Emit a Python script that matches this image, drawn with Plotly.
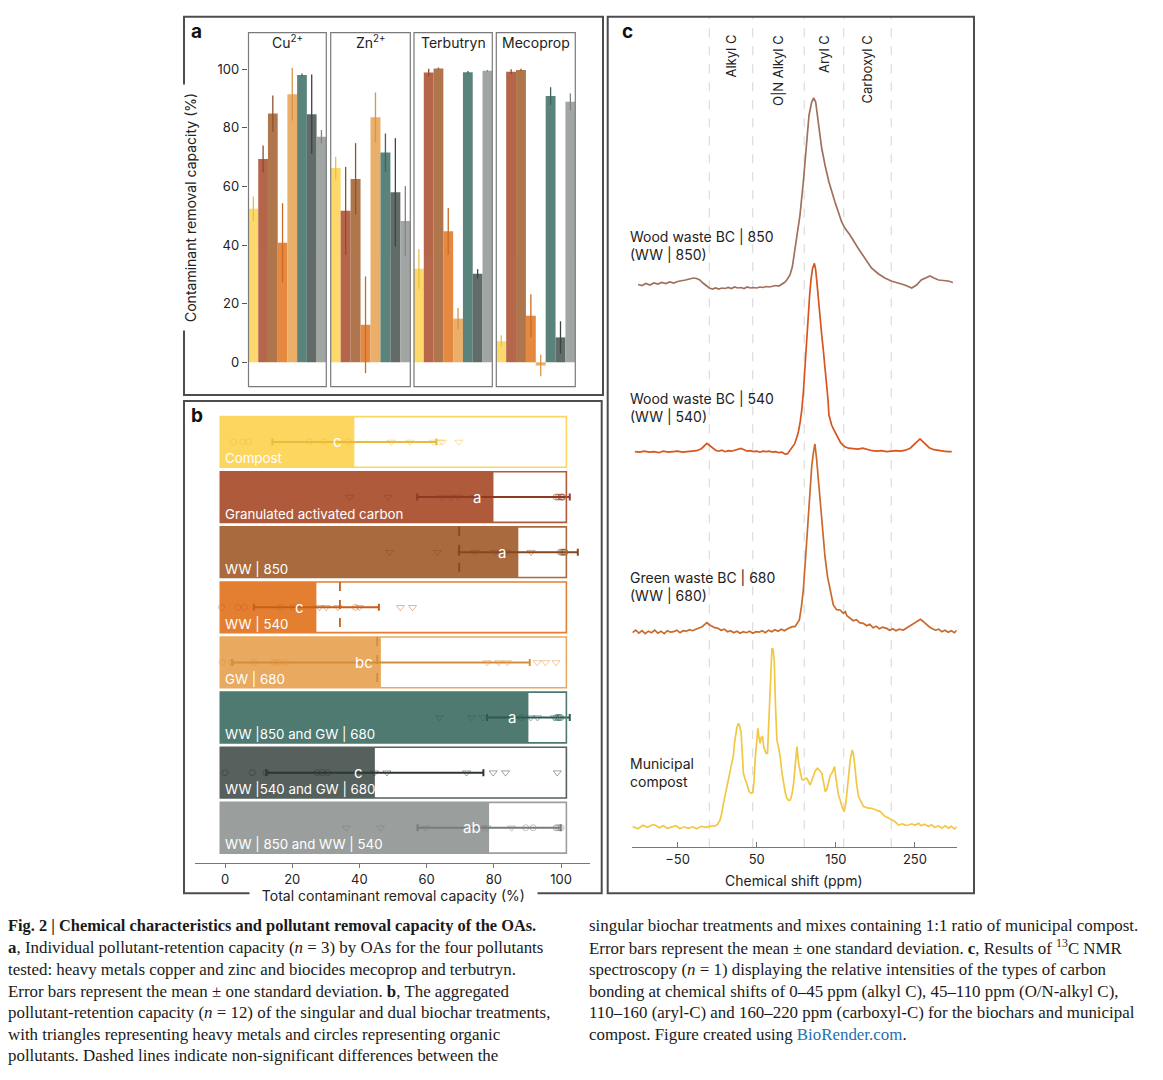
import plotly.graph_objects as go

# ── Page geometry (pixels of the 1163 x 1080 page; the html body adds an 8 px margin)
PAGE_W, PAGE_H = 1163, 1080
OFF = 8
W, H = PAGE_W - OFF, PAGE_H - OFF
FONT = 'Inter, Roboto, sans-serif'
SERIF = 'Liberation Serif, DejaVu Serif, serif'
INK = '#222222'
FRAME = '#4d4d4d'
NBSP = '\u00a0'


def fx(x):
    return (x - OFF) / W


def fy(y):
    return 1 - (y - OFF) / H


# ── Treatments (shared by panels a and b)
TREATMENTS = ['Compost', 'Granulated activated carbon', 'WW | 850', 'WW | 540', 'GW | 680',
              'WW |850 and GW | 680', 'WW |540 and GW | 680', 'WW | 850 and WW | 540']
SHORT = ['Compost', 'GAC', 'WW850', 'WW540', 'GW680', 'WW850+GW680', 'WW540+GW680', 'WW850+WW540']
FILL = ['#FDD660', '#B05A3C', '#A96B3E', '#E47F32', '#E9A95E', '#4E7A72', '#56605D', '#9A9F9D']
DARK = ['#E8BC3A', '#8E3A22', '#86481F', '#C85F18', '#D68D3A', '#2F5A53', '#2E3634', '#787D7B']

# ── Panel a: individual pollutant removal (%), mean and SD
POLLUTANTS = ['Cu<sup>2+</sup>', 'Zn<sup>2+</sup>', 'Terbutryn', 'Mecoprop']
CU_MEAN = [52.4, 69.4, 84.9, 40.8, 91.5, 98.1, 84.7, 77.0]
CU_SD = [4.2, 4.6, 6.2, 13.5, 9.0, 0.5, 13.5, 2.3]
ZN_MEAN = [66.3, 51.7, 62.6, 12.8, 83.6, 71.6, 58.0, 48.2]
ZN_SD = [3.9, 15.0, 12.2, 16.5, 8.5, 6.5, 18.5, 12.0]
TERB_MEAN = [31.9, 98.9, 100.3, 44.7, 14.9, 99.0, 30.2, 99.5]
TERB_SD = [6.8, 1.3, 0.3, 8.0, 3.6, 0.4, 1.6, 0.3]
MECO_MEAN = [7.2, 99.2, 99.8, 15.9, -1.1, 90.9, 8.5, 88.9]
MECO_SD = [2.0, 0.8, 0.4, 7.3, 3.7, 3.0, 5.5, 2.9]

# ── Panel b: total removal (%), mean, SD, letters, replicate points
TOTAL_MEAN = [38.5, 79.9, 87.3, 27.2, 46.4, 90.3, 44.6, 78.6]
TOTAL_SD = [24.4, 22.7, 17.7, 18.6, 44.3, 12.3, 32.3, 21.3]
LETTERS = ['c', 'a', 'a', 'c', 'bc', 'a', 'c', 'ab']
METALS = [
    [49.5, 55.0, 62.0, 63.9, 64.7, 69.6],
    [37.1, 48.6, 64.4, 67.2, 69.4, 74.0],
    [49.0, 63.2, 74.4, 80.3, 83.8, 91.1],
    [28.1, 30.1, 33.6, 40.0, 52.2, 55.8],
    [78.0, 81.5, 84.0, 92.9, 95.4, 98.5],
    [63.8, 73.4, 76.8, 91.0, 93.0, 98.0],
    [44.5, 48.2, 71.9, 79.8, 83.5, 98.9],
    [36.1, 46.3, 59.7, 76.8, 78.0, 85.3],
]
ORGANICS = [
    [2.5, 5.3, 7.0, 25.1, 29.6, 36.8],
    [98.5, 99.0, 99.5, 100.0, 100.3, 100.5],
    [99.8, 100.2, 100.5, 100.8, 101.0, 101.2],
    [-1.0, 3.8, 5.8, 16.5, 20.2, 38.8],
    [-0.9, 2.0, 8.7, 14.5, 15.9, 18.0],
    [88.1, 98.5, 99.0, 99.3, 99.6, 100.0],
    [0.0, 8.1, 12.2, 27.4, 28.9, 30.6],
    [89.5, 91.7, 98.5, 99.0, 99.5, 100.0],
]
NS_ROW = [2, 3, 4]
NS_VALUE = [69.7, 34.2, 45.3]

# ── Panel c: 13C NMR spectra (ppm, relative intensity)
REGION_EDGES = [-10, 45, 110, 160, 220]
REGION_NAMES = ['Alkyl C', 'O|N Alkyl C', 'Aryl C', 'Carboxyl C']

WW850_PPM = [-100, -95, -90, -85, -80, -75, -70, -65, -60, -55, -50, -45, -40, -35, -30, -26, -22, -18,
             -14, -10, -6, -2, 2, 6, 10, 14, 18, 22, 26, 30, 34, 38, 42, 46, 50, 54, 58, 62, 66, 70,
             74, 78, 82, 85, 88, 92, 95, 98.4, 101.5, 104.7, 108.9, 112.3, 116.1, 119.5, 122, 124.5,
             126.6, 132.1, 136.3, 141.3, 148.9, 157.4, 161.6, 167.9, 178, 186, 195, 204, 212, 220,
             229, 237, 246, 252, 258, 263, 269, 274, 280, 286, 292, 298]
WW850_INT = [0.5, -0.5, 1.5, 0, 2, 1, 2.5, 1.5, 3, 2, 3.5, 4, 5, 6, 7, 6.5, 5, 2,
             -1, -3, -4, -3, -4, -3, -3.5, -2.5, -3.5, -2, -3, -2.5, -3.5, -2, -3, -2.5, -3, -2,
             -2.5, -1.5, -2, -1.5, -0.5, -1, 1, 2.5, 5, 10, 18, 36.7, 52, 70, 103, 137, 170, 183,
             187, 183, 170, 137, 120, 103, 83, 63, 56.7, 50, 37, 27, 17, 11, 7, 4, 2, 0, -3, 0, 5,
             7, 9, 7, 5, 4.5, 4, 2.5]

WW540_PPM = [-104, -98, -92, -86, -80, -74, -68, -62, -56, -50, -44, -38, -32, -26, -20, -16, -13,
             -10, -6, -2, 2, 6, 10, 14, 18, 22, 26, 30, 34, 38, 42, 46, 50, 54, 58, 62, 66, 70,
             74, 78, 82, 86, 89, 92, 95, 98, 100.5, 102.7, 105, 107, 109, 111, 113, 115.2, 117,
             118.6, 120.5, 122.9, 124.5, 126, 127.5, 129.8, 132, 134, 136, 138.3, 140, 141.3,
             143, 144.7, 146.8, 148.9, 151, 153.1, 156, 159, 161.5, 166, 172, 178, 184, 190,
             196, 202, 208, 214, 220, 226, 232, 238, 244, 248, 252, 256.4, 260, 264, 268, 274,
             280, 286, 292, 296.5]
WW540_INT = [0, -0.5, 0.5, -0.5, 0, -1, 0.5, -0.5, 0, 0.5, -0.5, 0, 0.5, 1, 3, 6.5, 8.3,
             6.5, 3.5, 1.5, 0.5, 1.5, 0, 1, 0.5, 1.5, 2, 3.3, 2, 0.5, 1, 0, 0.5, -0.5, 0.5, 0,
             0.5, -0.5, 0, -1, -0.5, -2.5, -2, 1, 4, 8, 14, 20, 30, 42, 60, 85, 115, 140, 158,
             172, 183, 188.3, 182, 170, 155, 137, 118, 103, 88, 70, 53, 36.7, 30, 26.7, 23, 20,
             16, 13.3, 9, 6.5, 5, 3.5, 3, 2.5, 3.5, 2, 1, 0.5, 1, 0, 0.5, 1, 0.5, 1.5, 3.5,
             6.5, 10, 12.7, 10, 6.5, 4, 2, 1, 0.5, 0, 0]

GW680_PPM = [-107, -103, -99, -95, -91, -87, -83, -79, -75, -71, -67, -63, -59, -55, -51, -47,
             -43, -39, -35, -31, -27, -23, -19, -16, -13, -10, -7, -3, 1, 5, 9, 13, 17, 21, 25,
             29, 33, 37, 41, 45, 49, 53, 57, 61, 65, 69, 73, 77, 81, 85, 89, 92, 95, 98.4, 101,
             103.9, 106.5, 108.9, 111, 113.1, 115.2, 117.3, 119.5, 121.5, 123.6, 125.8, 128.3,
             130.8, 133.5, 136.3, 139.5, 142.6, 146.8, 151, 155.3, 159.5, 162, 164, 167.9, 172,
             176, 180, 184.7, 189, 193, 197, 201, 205, 209, 214.2, 218, 222, 226, 230, 235.3,
             240, 245, 250, 254, 257, 260, 264, 268, 272, 276, 280, 284, 288, 292, 296, 300,
             302.7]
GW680_INT = [-1, 1.5, -1.5, 1, -2, 0.5, -1, 1.5, -1.5, 0.5, -2, 1, -0.5, 0, 1.5, -1,
             1, 0.5, 2, 1, 2.5, 3.5, 5, 7, 9, 7, 5.5, 4, 3.5, 1.5, 2.5, 0, 1, -1, 0.5,
             -1.5, 0, -1, 0.5, -1.5, 0, -0.5, 1, -1, 1.5, 0, 2, 0.5, 2.5, 1, 3, 4, 5, 5, 8,
             11.7, 25, 41.7, 65, 91.7, 118, 141.7, 165, 178.3, 187.7, 171.7, 148,
             125, 100, 75, 55, 41.7, 26.7, 22, 21.7, 18.3, 20, 16, 13.3, 11,
             12, 9, 8.3, 6, 7.5, 4, 5.5, 3, 4.5, 3.3, 1.5, 3, 1, 2.5, 1.7,
             4, 6.5, 9.5, 11.5, 12.3, 10.5, 7.5, 5, 3, 1.5, 2.5, 0, 1.5, -0.5, 1, -1,
             1.5]

COMPOST_PPM = [-107, -100, -94, -88, -82, -78.6, -73, -68, -63, -57.5, -52, -47, -42, -36.4, -31,
               -26, -20, -15.3, -10, -6, -2.6, 0.5, 3.7, 5.8, 7.9, 10, 12.1, 14, 16.4, 18.5, 20.6,
               22, 23.5, 25, 26.9, 28.6, 30.3, 32, 33.2, 35.3, 37.4, 40.4, 43, 45, 46.5, 48, 50,
               51.4, 52.8, 54.3, 55.8, 57.3, 59, 60.7, 62, 63.6, 65, 66.2, 67.7, 69.2, 70.6, 72.1,
               73.8, 75.5, 77.5, 79.7, 81.8, 83.9, 86, 88.1, 90.2, 92.4, 94.5, 96.6, 98.7, 100.8,
               102.9, 105, 107, 109.2, 111.3, 113.4, 115.5, 117.6, 119.7, 121.8, 124.3, 126.9,
               129.6, 132.4, 134.5, 136.6, 138.7, 140.8, 143, 145, 148.4, 150, 151.3, 153.4,
               155.5, 158, 160.6, 162.8, 165.2, 166.7, 168.2, 170.7, 172.2, 173.7, 176, 178.7,
               181.8, 185, 190, 195.6, 200, 206.1, 209, 212.4, 216, 220.9, 225, 229.3, 234, 238,
               242, 246, 250, 254.6, 258, 262, 267.2, 271, 275, 279.9, 284, 288, 292.5, 296, 300,
               303]
COMPOST_INT = [0.7, -1.5, 2, 0, 2.5, 2.3, -0.5, 1.5, -1, 0, 1.5, -1.5, 0.5, -1, 0.5,
               -1.5, 1, 0, 1, 1.5, 1.3, 3, 7.3, 14, 24, 32, 40.7, 46, 55.7, 62, 72.3,
               85, 94, 100, 104, 101, 94, 75, 54, 48, 44, 35.7, 34, 34.7, 45, 67.3, 90,
               99, 90, 84, 90, 90.7, 80, 77.3, 74, 74, 100, 127.3, 160, 179, 178, 167.3,
               120, 87.3, 80, 70.7, 55, 44, 35, 29, 27, 27.3, 33, 44, 62, 80.7,
               64, 54, 48, 47.3, 49, 49, 45, 42.3, 47, 52.3, 57, 59,
               57, 54, 45, 35.7, 38, 44, 52, 54, 60.7, 50, 44, 32,
               27.3, 20, 15.7, 25, 44, 60, 67.3, 77.3, 73, 64, 45, 30.7,
               25, 20.7, 19.5, 19, 17.5, 15.7, 13.5, 10.7, 9.5, 7.3, 5.5, 2.3, 3.5, 2,
               2.3, 3.5, 2, 4, 1.5, 3, 0.7, 2.5, 0, 1.3, -1, 1.5, -1, 1, -1.5,
               0.7]

SPECTRA = [
    ('Wood waste BC | 850<br>(WW | 850)', WW850_PPM, WW850_INT, '#A0705C'),
    ('Wood waste BC | 540<br>(WW | 540)', WW540_PPM, WW540_INT, '#D9541E'),
    ('Green waste BC | 680<br>(WW | 680)', GW680_PPM, GW680_INT, '#C96A2C'),
    ('Municipal<br>compost', COMPOST_PPM, COMPOST_INT, '#F2C744'),
]
SPEC_BASE = [562.3, 395.6, 215.6, 20.0]      # baseline height of each trace (px above axis)
SPEC_LABEL_Y = [245, 408, 586, 772]          # label centre, page px

# ── Layout constants
A_DOMAINS = [(248.5, 326.3), (330.7, 410.3), (414.0, 492.3), (496.3, 575.3)]
BAR_BASE = -1.4
ROW_END = 101.6


def note(text, x, y, size=14, color=INK, xanchor='center', yanchor='middle', **kw):
    d = dict(text=text, x=x, y=y, xanchor=xanchor, yanchor=yanchor, showarrow=False,
             font=dict(size=size, color=color, family=kw.pop('family', FONT)))
    d.setdefault('xref', 'paper')
    d.setdefault('yref', 'paper')
    d.update(kw)
    return d


fig = go.Figure()
shapes, notes = [], []

# ── Panel a
A_MEANS = [CU_MEAN, ZN_MEAN, TERB_MEAN, MECO_MEAN]
A_SDS = [CU_SD, ZN_SD, TERB_SD, MECO_SD]
for f in range(4):
    xa = 'x' if f == 0 else f'x{f + 1}'
    for t in range(8):
        fig.add_trace(go.Bar(
            x=[SHORT[t]], y=[A_MEANS[f][t]], width=1, xaxis=xa, yaxis='y',
            marker=dict(color=FILL[t], line_width=0), opacity=0.93,
            error_y=dict(type='data', array=[A_SDS[f][t]], color=DARK[t], thickness=1.3, width=0),
            showlegend=False, hoverinfo='skip'))
    shapes.append(dict(type='rect', xref=f'{xa} domain', yref='y domain', x0=0, x1=1, y0=0, y1=1,
                       line=dict(color='#7a7a7a', width=1.2), layer='above'))
    notes.append(note(POLLUTANTS[f], 0.5, fy(42), xref=f'{xa} domain'))

# ── Panel b
for t in range(8):
    fig.add_trace(go.Bar(
        orientation='h', y=[t], x=[TOTAL_MEAN[t] - BAR_BASE], base=BAR_BASE, width=0.92,
        xaxis='x5', yaxis='y2', marker=dict(color=FILL[t], line_width=0),
        showlegend=False, hoverinfo='skip'))
    shapes.append(dict(type='rect', xref='x5', yref='y2', x0=BAR_BASE, x1=ROW_END,
                       y0=t - 0.46, y1=t + 0.46, line=dict(color=FILL[t], width=1.6), layer='above'))
    fig.add_trace(go.Scatter(
        x=METALS[t], y=[t] * len(METALS[t]), mode='markers', xaxis='x5', yaxis='y2',
        marker=dict(symbol='triangle-down-open', size=7, color=DARK[t], opacity=0.45,
                    line=dict(width=1)), showlegend=False, hoverinfo='skip'))
    fig.add_trace(go.Scatter(
        x=ORGANICS[t], y=[t] * len(ORGANICS[t]), mode='markers', xaxis='x5', yaxis='y2',
        marker=dict(symbol='circle-open', size=6, color=DARK[t], opacity=0.45,
                    line=dict(width=1)), showlegend=False, hoverinfo='skip'))
    fig.add_trace(go.Scatter(
        x=[TOTAL_MEAN[t]], y=[t], mode='markers', xaxis='x5', yaxis='y2',
        marker=dict(size=1, color='rgba(0,0,0,0)'),
        error_x=dict(type='data', array=[TOTAL_SD[t]], color=DARK[t], thickness=2, width=3.5),
        showlegend=False, hoverinfo='skip'))
    notes.append(note(TREATMENTS[t], -0.5, t + 0.3, size=13.3, color='white', xanchor='left',
                      xref='x5', yref='y2'))
    notes.append(note(LETTERS[t], TOTAL_MEAN[t] - 5, t, size=15, color='white',
                      xref='x5', yref='y2'))

for r, v in zip(NS_ROW, NS_VALUE):
    shapes.append(dict(type='line', xref='x5', yref='y2', x0=v, x1=v, y0=r - 0.46, y1=r + 0.46,
                       line=dict(color=DARK[r], width=1.8, dash='dash'), layer='above'))

# ── Panel c
for b in REGION_EDGES:
    shapes.append(dict(type='line', xref='x6', yref='y3 domain', x0=b, x1=b, y0=0, y1=0.997,
                       line=dict(color='#d4d4d4', width=1, dash='dash'), layer='below'))
for i, name in enumerate(REGION_NAMES):
    notes.append(note(name, (REGION_EDGES[i] + REGION_EDGES[i + 1]) / 2, fy(33), size=13,
                      yanchor='top', textangle=-90, xref='x6'))
for (label, ppm, inten, color), base, ly in zip(SPECTRA, SPEC_BASE, SPEC_LABEL_Y):
    fig.add_trace(go.Scatter(
        x=ppm, y=[v + base for v in inten], mode='lines', xaxis='x6', yaxis='y3',
        line=dict(color=color, width=1.7), showlegend=False, hoverinfo='skip'))
    notes.append(note(label, fx(628), fy(ly), xanchor='left', align='left'))

# ── Frames, panel letters and axis titles
for x0, y0, x1, y1 in [(184, 16.7, 603, 395), (184, 401, 601.7, 893.3), (607.7, 16.7, 974, 893.3)]:
    shapes.append(dict(type='rect', xref='paper', yref='paper', x0=fx(x0), x1=fx(x1),
                       y0=fy(y1), y1=fy(y0), line=dict(color=FRAME, width=2), layer='below'))

for letter, x, y in [('a', 196, 32), ('b', 197, 415), ('c', 627, 31)]:
    notes.append(note(f'<b>{letter}</b>', fx(x), fy(y), size=19, color='#111111'))

notes.append(note('Contaminant removal capacity (%)', fx(191), fy(208), textangle=-90,
                  bgcolor='white', borderpad=8))
notes.append(note(NBSP * 3 + 'Total contaminant removal capacity (%)' + NBSP * 3, fx(393),
                  fy(895.5), bgcolor='white', borderpad=0))
notes.append(note('Chemical shift (ppm)', fx(794), fy(880)))

# ── Caption
CAPTION_LEFT = [
    '<b>Fig. 2 | Chemical characteristics and pollutant removal capacity of the OAs.</b>',
    '<b>a</b>, Individual pollutant-retention capacity (<i>n</i> = 3) by OAs for the four pollutants',
    'tested: heavy metals copper and zinc and biocides mecoprop and terbutryn.',
    'Error bars represent the mean ± one standard deviation. <b>b</b>, The aggregated',
    'pollutant-retention capacity (<i>n</i> = 12) of the singular and dual biochar treatments,',
    'with triangles representing heavy metals and circles representing organic',
    'pollutants. Dashed lines indicate non-significant differences between the',
]
CAPTION_RIGHT = [
    'singular biochar treatments and mixes containing 1:1 ratio of municipal compost.',
    'Error bars represent the mean ± one standard deviation. <b>c</b>, Results of <sup>13</sup>C NMR',
    'spectroscopy (<i>n</i> = 1) displaying the relative intensities of the types of carbon',
    'bonding at chemical shifts of 0–45 ppm (alkyl C), 45–110 ppm (O/N-alkyl C),',
    '110–160 (aryl-C) and 160–220 ppm (carboxyl-C) for the biochars and municipal',
    "compost. Figure created using <span style='color:#1f6fb2'>BioRender.com</span>.",
]
LINE_Y = [925, 947, 969, 991, 1012, 1034, 1055]
for col_x, lines in [(6, CAPTION_LEFT), (587, CAPTION_RIGHT)]:
    for k, (line, y) in enumerate(zip(lines, LINE_Y)):
        size = 16.4 if (col_x == 6 and k == 0) else 16.9
        notes.append(note(line, fx(col_x), fy(y), size=size, color='#1a1a1a', xanchor='left',
                          family=SERIF))

# ── Axes
hidden_cat = dict(type='category', categoryorder='array', categoryarray=SHORT, range=[-0.5, 7.5],
                  visible=False, fixedrange=True)
layout_axes = {}
for f, (d0, d1) in enumerate(A_DOMAINS):
    key = 'xaxis' if f == 0 else f'xaxis{f + 1}'
    layout_axes[key] = dict(hidden_cat, domain=[fx(d0), fx(d1)], anchor='y')

layout_axes['yaxis'] = dict(domain=[fy(386.7), fy(32.7)], range=[-8.33, 112.5], anchor='free',
                            position=fx(246.7), tickvals=[0, 20, 40, 60, 80, 100], ticks='outside',
                            ticklen=5, tickcolor='#555555', showgrid=False, zeroline=False,
                            showline=False, tickfont=dict(size=13, color=INK))
layout_axes['xaxis5'] = dict(domain=[fx(195), fx(590)], range=[-8.93, 108.63], anchor='free',
                             position=fy(863.3), showline=True, linecolor='#777777', linewidth=1.3,
                             ticks='outside', ticklen=4, tickcolor='#777777',
                             tickvals=[0, 20, 40, 60, 80, 100], showgrid=False, zeroline=False,
                             tickfont=dict(size=13, color=INK))
layout_axes['yaxis2'] = dict(domain=[fy(855.3), fy(414.4)], range=[7.5, -0.5], anchor='x5',
                             visible=False)
layout_axes['xaxis6'] = dict(domain=[fx(632.3), fx(956.7)], range=[-107.3, 302.8], anchor='free',
                             position=fy(847.3), showline=True, linecolor='#777777', linewidth=1.3,
                             ticks='inside', ticklen=5, tickcolor='#777777',
                             tickvals=[-50, 50, 150, 250], showgrid=False, zeroline=False,
                             tickfont=dict(size=13, color=INK))
layout_axes['yaxis3'] = dict(domain=[fy(847.3), fy(15)], range=[0, 832.3], anchor='x6',
                             visible=False)

fig.update_layout(
    width=W, height=H, margin=dict(l=0, r=0, t=0, b=0),
    paper_bgcolor='white', plot_bgcolor='rgba(0,0,0,0)',
    barmode='overlay', showlegend=False,
    font=dict(family=FONT, color=INK),
    shapes=shapes, annotations=notes,
    **layout_axes,
)

fig.write_html('out.html')
